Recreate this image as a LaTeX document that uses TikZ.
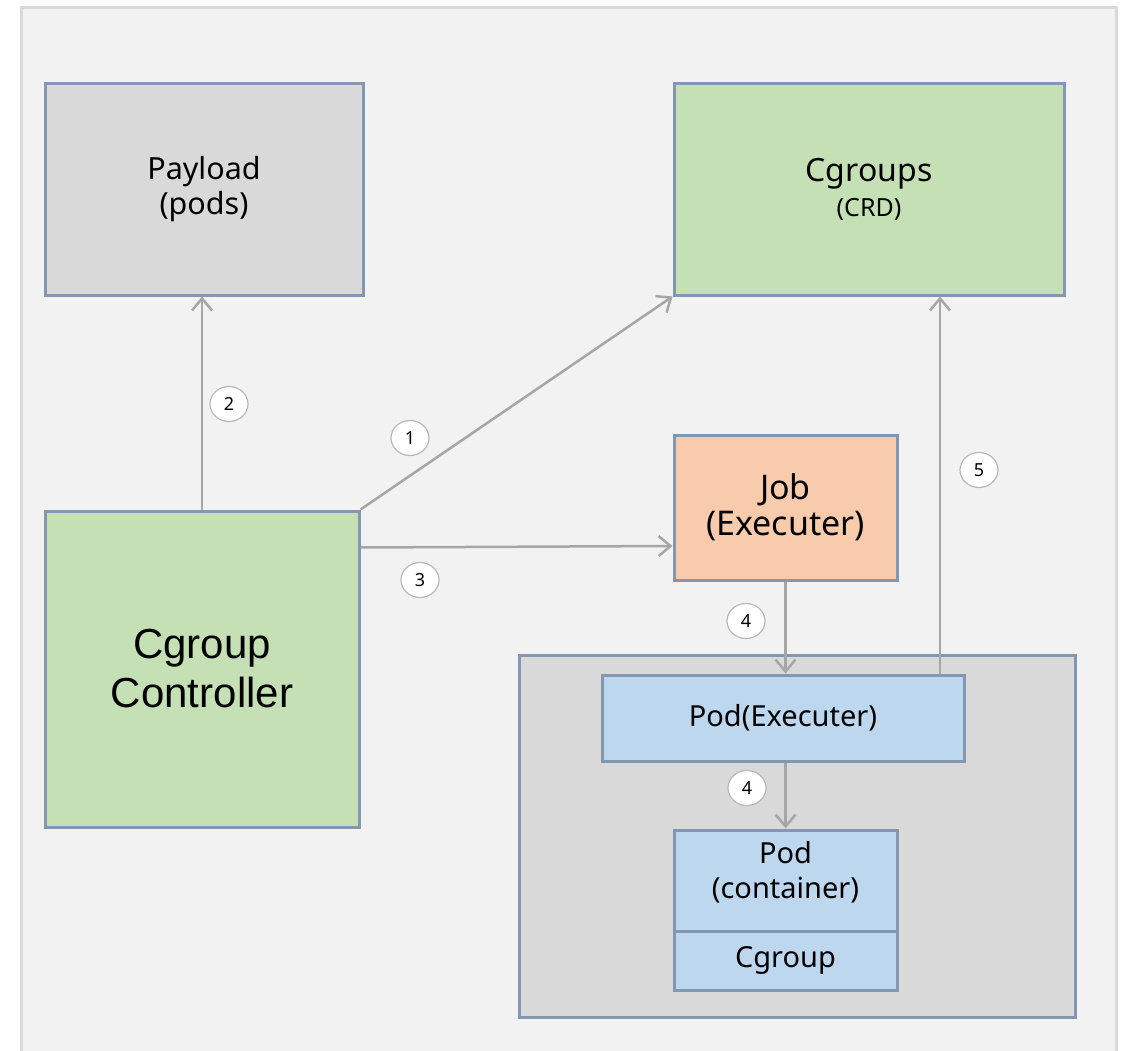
\documentclass[tikz,border=0pt]{standalone}
\usepackage{fontspec}
\setmainfont{Noto Sans}
\newfontfamily\arialfont{Liberation Sans}
\usetikzlibrary{arrows.meta, shapes.geometric}

\definecolor{frameback}{HTML}{F2F2F2}
\definecolor{frameedge}{HTML}{D9D9D9}
\definecolor{boxedge}{HTML}{8497B0}
\definecolor{grayfill}{HTML}{D9D9D9}
\definecolor{greenfill}{HTML}{C5E0B4}
\definecolor{orangefill}{HTML}{F8CBAD}
\definecolor{bluefill}{HTML}{BDD7EE}
\definecolor{linegray}{HTML}{A6A6A6}

\begin{document}
\begin{tikzpicture} [
  x=1pt, y=-1pt,
  box/.style={
    draw=boxedge, line width=3pt, rectangle, align=center, inner sep=0pt,
    font=\fontsize{29}{35}\selectfont
  },
  payl/.style={box, fill=grayfill},
  crd/.style={box, fill=greenfill},
  job/.style={box, fill=orangefill},
  pod/.style={box, fill=bluefill},
  conn/.style={
    draw=linegray, line width=2.5pt, -{Straight Barb[length=12pt, width=20pt]}},
  num/.style={
    draw=linegray!80, line width=1.2pt, fill=white, ellipse, inner sep=0pt,
    minimum width=38pt, minimum height=35pt, font=\fontsize{18}{20}\selectfont}
  ]
  \useasboundingbox (0,0) rectangle (1122,1051);
  \draw[fill=frameback, draw=frameedge, line width=3.5pt] (21.5,7.5) rectangle (1116.5,1080);

  % boxes
  \node(payload)[payl, minimum width=318pt, minimum height=211pt, font=\fontsize{30.5}{35}\selectfont]
    at (204,189.5) {Payload\\(pods)};
  \node(cgroups)[crd, minimum width=390pt, minimum height=211pt] at (869,189.5)
    {\fontsize{32}{34}\selectfont Cgroups\\\fontsize{25}{30}\selectfont (CRD)};
  \node(ctrl)[crd, minimum width=314pt, minimum height=316pt, font=\arialfont\fontsize{42}{49}\selectfont]
    at (202,669) {Cgroup\\Controller};
  \node(job)[job, minimum width=223pt, minimum height=145pt, font=\fontsize{34}{36}\selectfont]
    at (785.5,507.5) {Job\\(Executer)};
  \node(host)[payl, minimum width=556pt, minimum height=362pt] at (797,836) {};
  \node(podexec)[pod, minimum width=362pt, minimum height=86pt] at (783,718) {Pod(Executer)};
  \node(podc)[pod, minimum width=223pt, minimum height=101pt, text depth=22pt] at (785.5,880.5) {Pod\\(container)};
  \node(cgrp)[pod, minimum width=223pt, minimum height=59pt] at (785.5,960.5) {Cgroup};

  % connectors
  \draw[conn] (ctrl.north east) -- (cgroups.south west);
  \draw[conn] (ctrl.north) -- (ctrl.north |- payload.south);
  \draw[conn] ([yshift=-38pt]ctrl.north east) -- ([yshift=-38.5pt]job.west);
  \draw[conn] (job.south) -- (job.south |- podexec.north);
  \draw[conn] ([xshift=157pt]podexec.north) -- ([xshift=157pt]podexec.north |- cgroups.south);
  \draw[conn] (podc.north |- podexec.south) -- (podc.north);

  % step numbers
  \node(n1)[num] at (410,438) {1};
  \node(n2)[num] at (229,404) {2};
  \node(n3)[num] at (420,580) {3};
  \node(n4a)[num] at (746,621) {4};
  \node(n5)[num] at (979,470) {5};
  \node(n4b)[num] at (747,788) {4};
\end{tikzpicture}
\end{document}
